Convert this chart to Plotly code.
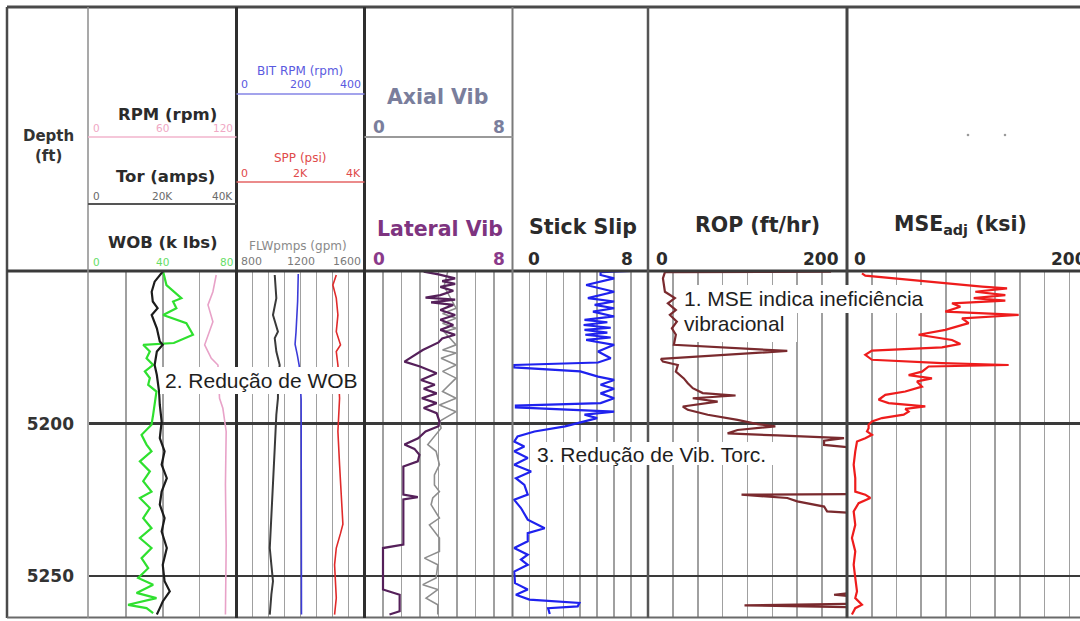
import plotly.graph_objects as go

W, H = 1080, 621

# ---------------- data ----------------
DEPTH_RANGE = [5263.4, 5150.0]
DEPTH_TICKS = [5200, 5250]

WOB_DEPTH = [5150.2, 5154.6, 5158.9, 5160.0, 5162.2, 5164.4, 5167.1, 5170.9, 5173.6, 5174.2,
             5176.4, 5178.6, 5180.8, 5182.9, 5185.1, 5187.3, 5189.5, 5193.9, 5197.1, 5200.4,
             5203.7, 5206.9, 5209.1, 5212.4, 5215.7, 5218.9, 5222.3, 5224.4, 5227.7, 5231.0,
             5234.3, 5237.5, 5240.8, 5244.1, 5247.4, 5250.6, 5252.8, 5255.5, 5257.2, 5259.4,
             5260.5, 5262.1]
WOB = [40.2, 42.0, 50.1, 45.6, 47.4, 40.2, 52.8, 56.4, 46.0, 29.4,
       33.0, 31.2, 34.8, 30.3, 33.0, 32.1, 36.6, 35.7, 34.8, 33.9,
       28.5, 31.2, 33.9, 27.6, 33.0, 29.4, 33.9, 27.6, 33.0, 29.4,
       33.9, 27.6, 33.9, 28.5, 32.1, 26.7, 34.8, 25.8, 36.6, 21.2,
       31.2, 34.8]

TOR_DEPTH = [5150.2, 5153.5, 5156.8, 5160.0, 5162.2, 5164.4, 5168.8, 5173.1, 5174.2, 5176.4,
             5180.8, 5184.1, 5189.5, 5193.9, 5199.3, 5204.8, 5209.1, 5213.5, 5217.9, 5222.3,
             5226.6, 5231.0, 5235.4, 5240.8, 5246.3, 5251.7, 5255.0, 5258.3, 5260.5, 5262.6]
TOR = [20000, 17800, 17000, 17300, 18600, 17000, 18400, 19200, 20000, 18400,
       17800, 18400, 19000, 19200, 19700, 19200, 20500, 19700, 21100, 19700,
       19200, 20500, 19700, 21100, 20000, 20500, 21900, 20000, 19200, 18400]

RPM_DEPTH = [5151.3, 5156.8, 5161.1, 5166.6, 5174.2, 5178.6, 5180.8, 5185.0, 5191.7, 5195.0,
             5202.6, 5220.0, 5240.0, 5262.6]
RPM = [103.5, 100.8, 96.8, 100.8, 94.1, 99.5, 104.9, 105.5, 106.2, 108.9,
       111.6, 111.0, 111.6, 111.0]

FLW_DEPTH = [5151.3, 5158.9, 5164.4, 5169.9, 5172.0, 5176.4, 5180.8, 5185.0, 5191.7, 5197.1,
             5208.0, 5219.0, 5230.0, 5240.8, 5246.3, 5251.7, 5256.0, 5262.6]
FLW = [1039, 1049, 1028, 1059, 1039, 1049, 1070, 1060, 1059, 1049,
       1039, 1028, 1018, 1008, 1018, 1028, 1018, 1008]

BITRPM_DEPTH = [5151.0, 5160.0, 5170.0, 5174.0, 5177.5, 5181.0, 5192.0, 5262.6]
BITRPM = [193, 191, 186, 183, 190, 196, 202, 203]

SPP_DEPTH = [5151.3, 5154.6, 5158.9, 5164.4, 5169.9, 5174.2, 5176.4, 5180.8, 5191.7, 5202.6,
             5213.5, 5224.4, 5233.0, 5236.0, 5240.8, 5246.3, 5257.2, 5262.6]
SPP = [3118, 3012, 3118, 3169, 3118, 3250, 3118, 3169, 3221, 3169,
       3221, 3274, 3325, 3250, 3118, 3065, 3118, 3065]

AXIAL_DEPTH = [5150.2, 5155.0, 5162.2, 5163.9, 5165.5, 5167.1, 5168.8, 5169.9, 5174.2, 5175.9,
               5176.9, 5178.6, 5180.8, 5182.9, 5185.1, 5189.5, 5191.7, 5193.9, 5196.1, 5199.3,
               5201.5, 5204.8, 5206.9, 5209.1, 5213.5, 5216.8, 5220.1, 5222.3, 5224.4, 5226.6,
               5231.0, 5233.2, 5237.5, 5241.9, 5244.1, 5246.3, 5250.6, 5252.8, 5254.4, 5257.2,
               5259.4, 5262.6]
AXIAL = [4.5, 4.3, 4.95, 4.22, 4.95, 4.22, 4.95, 4.3, 4.95, 4.22,
         4.95, 4.14, 4.95, 4.22, 4.95, 4.22, 4.95, 4.05, 4.95, 4.05,
         4.14, 3.69, 3.42, 3.87, 4.05, 3.78, 3.78, 4.05, 3.69, 3.6,
         4.05, 3.51, 4.05, 4.05, 3.24, 3.96, 3.87, 3.15, 3.96, 3.33,
         3.96, 3.96]

LAT_DEPTH = [5150.2, 5151.1, 5152.4, 5153.3, 5154.2, 5155.2, 5156.5, 5157.9, 5158.7, 5159.4,
             5160.3, 5161.1, 5162.8, 5164.4, 5166.0, 5167.7, 5169.3, 5170.9, 5172.1, 5173.4,
             5175.9, 5178.1, 5179.7, 5181.3, 5183.5, 5185.7, 5187.3, 5188.6, 5190.1, 5191.7,
             5193.3, 5194.9, 5196.6, 5199.3, 5200.9, 5202.6, 5204.8, 5206.9, 5208.3, 5210.2,
             5212.4, 5214.1, 5223.3, 5224.1, 5224.9, 5239.7, 5240.8, 5254.4, 5256.1, 5261.5,
             5262.6]
LATERAL = [3.2, 4.0, 4.9, 4.2, 4.9, 4.1, 4.8, 4.1, 3.3, 4.9,
           3.6, 4.8, 4.1, 4.9, 4.1, 4.8, 4.1, 4.9, 4.2, 4.0,
           3.15, 2.6, 2.16, 3.0, 3.9, 3.05, 3.8, 3.2, 3.9, 3.1,
           3.9, 3.2, 3.9, 4.05, 4.0, 3.3, 2.9, 2.16, 2.7, 2.97,
           2.88, 2.1, 2.1, 2.88, 2.1, 2.1, 1.0, 1.0, 1.9, 1.9,
           1.35]

STICK_DEPTH = [5150.0, 5150.4, 5151.3, 5152.4, 5154.6, 5156.8, 5158.9, 5160.0, 5161.1, 5162.2,
               5163.3, 5164.9, 5166.0, 5166.8, 5167.7, 5168.6, 5169.3, 5170.2, 5170.9, 5171.8,
               5172.6, 5174.2, 5176.4, 5178.6, 5180.0, 5180.8, 5181.6, 5182.9, 5184.6, 5185.7,
               5187.3, 5188.6, 5190.1, 5191.7, 5193.3, 5194.1, 5194.7, 5196.1, 5197.1, 5198.2,
               5199.3, 5200.9, 5202.6, 5204.2, 5205.9, 5207.5, 5209.1, 5211.3, 5213.5, 5215.7,
               5217.9, 5220.1, 5223.3, 5225.0, 5227.7, 5231.5, 5234.3, 5235.9, 5238.6, 5240.8,
               5243.0, 5244.6, 5246.3, 5248.5, 5252.3, 5254.4, 5256.1, 5257.7, 5258.8, 5259.9,
               5260.5, 5262.4]
STICK = [7.0, 5.2, 5.2, 6.0, 4.35, 6.0, 4.45, 6.0, 4.85, 6.0,
         4.75, 6.0, 4.25, 5.6, 4.2, 5.8, 4.25, 5.6, 4.3, 5.8,
         4.35, 6.0, 5.05, 5.8, 5.05, 0.1, 0.1, 4.0, 5.05, 6.0,
         5.2, 6.0, 5.2, 6.0, 5.2, 0.2, 0.2, 6.0, 4.25, 5.0,
         4.25, 3.1, 1.3, 0.3, 0.1, 0.7, 0.1, 0.9, 0.1, 1.1,
         0.2, 0.7, 0.9, 0.1, 0.5, 0.9, 1.9, 0.9, 0.9, 0.1,
         0.9, 0.5, 0.9, 0.1, 0.15, 0.9, 0.2, 1.0, 3.95, 3.85,
         2.1, 2.2]

ROP_DEPTH = [5150.2, 5150.4, 5152.4, 5154.6, 5156.8, 5158.9, 5160.6, 5162.8, 5164.4, 5166.6,
             5168.8, 5170.9, 5174.2, 5176.2, 5178.8, 5179.7, 5180.8, 5183.0, 5185.2, 5186.8,
             5188.4, 5190.0, 5190.8, 5191.7, 5192.8, 5194.4, 5195.5, 5197.1, 5198.8, 5200.2,
             5200.9, 5202.1, 5203.2, 5203.9, 5204.8, 5205.6, 5207.0, 5207.9, 5223.1, 5223.3,
             5224.4, 5225.5, 5227.2, 5228.8, 5229.3, 5255.5, 5256.1, 5256.6, 5259.1, 5259.6,
             5260.2, 5262.6]
ROP = [184, 17, 15, 16, 17, 27, 20, 28, 22, 29,
       24, 28, 26, 140, 13, 15, 30, 28, 36, 40,
       45, 55, 88, 45, 70, 35, 40, 60, 90, 110,
       128, 90, 80, 130, 197, 177, 177, 205, 205, 94,
       140, 150, 177, 180, 205, 205, 187, 205, 205, 97,
       205, 205]

MSE_DEPTH = [5150.8, 5151.5, 5155.1, 5155.7, 5156.8, 5157.9, 5158.9, 5159.7, 5160.6, 5161.7,
             5163.3, 5164.4, 5165.5, 5167.1, 5169.3, 5170.9, 5172.6, 5173.9, 5175.0, 5176.1,
             5177.5, 5179.1, 5180.2, 5180.8, 5181.3, 5183.0, 5184.1, 5185.2, 5186.2, 5187.9,
             5189.5, 5190.6, 5192.2, 5193.3, 5194.4, 5195.2, 5196.1, 5197.1, 5198.2, 5199.3,
             5200.4, 5201.5, 5202.6, 5203.7, 5204.8, 5205.9, 5209.1, 5213.5, 5217.9, 5222.3,
             5223.3, 5224.4, 5226.1, 5228.8, 5233.2, 5237.5, 5241.9, 5246.3, 5250.6, 5255.0,
             5257.2, 5259.4, 5260.5, 5262.6]
MSE = [12.1, 14.8, 109.3, 129.6, 103.9, 128.2, 102.6, 128.2, 85.0, 91.8,
       79.6, 139.0, 93.1, 98.5, 79.6, 58.0, 85.0, 91.8, 76.9, 20.2,
       14.8, 20.2, 76.9, 130.9, 66.1, 60.7, 49.9, 68.8, 56.7, 60.7,
       47.2, 31.0, 25.6, 33.7, 63.4, 47.2, 49.9, 45.9, 28.3, 20.2,
       17.5, 17.5, 16.2, 20.2, 14.8, 8.1, 6.7, 5.4, 6.7, 6.7,
       14.8, 18.9, 9.4, 5.4, 6.7, 4.0, 6.7, 5.4, 6.7, 8.1,
       6.7, 12.1, 6.7, 4.0]

# header scales
RPM_SCALE = [0, 60, 120]
TOR_SCALE = [0, 20000, 40000]
TOR_SCALE_TEXT = ["0", "20K", "40K"]
WOB_SCALE = [0, 40, 80]
BITRPM_SCALE = [0, 200, 400]
SPP_SCALE = [0, 2000, 4000]
SPP_SCALE_TEXT = ["0", "2K", "4K"]
FLW_SCALE = [800, 1200, 1600]
VIB_SCALE = [0, 8]
ROP_SCALE = [0, 200]
MSE_SCALE = [0, 200]

# ---------------- layout helpers ----------------
def px(x):
    return x / W


def py(y):
    return 1 - y / H


T1 = (89, 236.5)
T2 = (236.5, 364.5)
T3 = (364.5, 512.5)
T4 = (512.5, 648)
T5 = (648, 847)
T6 = (847, 1094)          # full-scale width of MSE track (cut by the page edge)
TOP, BOT = 271, 617
YDOM = [py(BOT), py(TOP)]
GRID = "#a0a0a0"

fig = go.Figure()


def add_curve(x, y, xa, color, width=2.0):
    fig.add_trace(go.Scatter(x=x, y=y, xaxis=xa, yaxis="y", mode="lines",
                             line=dict(color=color, width=width),
                             hoverinfo="skip", showlegend=False))


add_curve(RPM, RPM_DEPTH, "x3", "#e8a2c8", 1.6)
add_curve(WOB, WOB_DEPTH, "x", "#2fe02f", 2.2)
add_curve(TOR, TOR_DEPTH, "x2", "#1c1c1c", 2.2)
add_curve(FLW, FLW_DEPTH, "x4", "#3a3a3a", 2.0)
add_curve(BITRPM, BITRPM_DEPTH, "x5", "#3c3cd8", 1.6)
add_curve(SPP, SPP_DEPTH, "x6", "#e02a2a", 1.6)
add_curve(AXIAL, AXIAL_DEPTH, "x7", "#8e8e8e", 1.6)
add_curve(LATERAL, LAT_DEPTH, "x7", "#55205a", 2.2)
add_curve(STICK, STICK_DEPTH, "x8", "#1f22ee", 2.2)
add_curve(ROP, ROP_DEPTH, "x9", "#7a2a2e", 2.2)
add_curve(MSE, MSE_DEPTH, "x10", "#ee1c1c", 2.2)


def track_axis(dom, rng, dtick):
    return dict(domain=[px(dom[0]), px(dom[1])], range=rng, dtick=dtick, tick0=rng[0],
                showgrid=True, gridcolor=GRID, gridwidth=1.6, showticklabels=False,
                zeroline=False, showline=False, ticks="", anchor="y", fixedrange=True)


def overlay_axis(base, rng):
    return dict(overlaying=base, range=rng, visible=False, anchor="y", fixedrange=True)


mse_visible = MSE_SCALE[-1] * (W - T6[0]) / (T6[1] - T6[0])

layout = dict(
    width=W, height=H, margin=dict(l=0, r=0, t=0, b=0),
    paper_bgcolor="white", plot_bgcolor="rgba(0,0,0,0)",
    hovermode=False, showlegend=False,
    xaxis=track_axis(T1, [WOB_SCALE[0], WOB_SCALE[-1]], 20),
    xaxis2=overlay_axis("x", [TOR_SCALE[0], TOR_SCALE[-1]]),
    xaxis3=overlay_axis("x", [RPM_SCALE[0], RPM_SCALE[-1]]),
    xaxis4=track_axis(T2, [FLW_SCALE[0], FLW_SCALE[-1]], 100),
    xaxis5=overlay_axis("x4", [BITRPM_SCALE[0], BITRPM_SCALE[-1]]),
    xaxis6=overlay_axis("x4", [SPP_SCALE[0], SPP_SCALE[-1]]),
    xaxis7=track_axis(T3, [VIB_SCALE[0], VIB_SCALE[-1]], 1),
    xaxis8=track_axis(T4, [VIB_SCALE[0], VIB_SCALE[-1]], 1),
    xaxis9=track_axis(T5, [ROP_SCALE[0], ROP_SCALE[-1]], 25),
    xaxis10=dict(track_axis((T6[0], W), [0, mse_visible], 20)),
    yaxis=dict(domain=YDOM, range=DEPTH_RANGE, tickvals=DEPTH_TICKS,
               ticktext=[str(d) for d in DEPTH_TICKS],
               showgrid=True, gridcolor="#3a3a3a", gridwidth=2.5, zeroline=False,
               showline=False, ticks="", ticklabelstandoff=14, anchor="x",
               tickfont=dict(family="DejaVu Sans", size=17, color="#333333", weight="bold"),
               fixedrange=True),
)

shapes = []


def hline(y, x0, x1, color, width):
    shapes.append(dict(type="line", xref="paper", yref="paper", x0=px(x0), x1=px(x1),
                       y0=py(y), y1=py(y), line=dict(color=color, width=width), layer="above"))


def vline(x, y0, y1, color, width):
    shapes.append(dict(type="line", xref="paper", yref="paper", x0=px(x), x1=px(x),
                       y0=py(y0), y1=py(y1), line=dict(color=color, width=width), layer="above"))


# frame and track separators
hline(7, 7, W, "#4a4a4a", 3)
vline(7, 7, 618, "#4a4a4a", 2.5)
hline(617.5, 7, W, "#6a6a6a", 2)
hline(TOP, 7, W, "#3a3a3a", 3)
vline(88, 7, 618, "#8c8c8c", 1.5)
vline(T1[1], 7, 618, "#2e2e2e", 3)
vline(T2[1], 7, 618, "#2e2e2e", 3)
vline(T3[1], 7, 618, "#7a7a7a", 2)
vline(T4[1], 7, 618, "#555555", 2.5)
vline(T5[1], 7, 618, "#444444", 3)
# header sub-scale lines
hline(137, 88, T1[1], "#f2b4cc", 1.5)
hline(204, 88, T1[1], "#555555", 2)
hline(94, T1[1], T2[1], "#8484e6", 1.5)
hline(182, T1[1], T2[1], "#e46464", 1.5)
hline(137, T2[1], T3[1], "#9a9a9a", 2)
# two small specks in the MSE header
for cx in (968, 1005):
    shapes.append(dict(type="circle", xref="paper", yref="paper", x0=px(cx - 1.3), x1=px(cx + 1.3),
                       y0=py(136.3), y1=py(133.7), fillcolor="#9a9a9a", line=dict(width=0)))


# white note boxes
def box(x0, y0, x1, y1):
    shapes.append(dict(type="rect", xref="paper", yref="paper", x0=px(x0), x1=px(x1),
                       y0=py(y1), y1=py(y0), fillcolor="white", line=dict(width=0), layer="above"))


box(681, 285, 944, 313)
box(681, 313, 797, 342)
box(160, 367, 362, 394)
box(533, 442, 773, 465)

annotations = []


def text(t, x, y, size, color, anchor="center", family="DejaVu Sans"):
    annotations.append(dict(text=t, x=px(x), y=py(y), xref="paper", yref="paper",
                            xanchor=anchor, yanchor="middle", showarrow=False, borderpad=0,
                            font=dict(family=family, size=size, color=color)))


def scale(values, labels, dom, vmin, vmax, y, size, color, bold=False, inset=3):
    for i, (v, lab) in enumerate(zip(values, labels)):
        xp = dom[0] + (v - vmin) / (vmax - vmin) * (dom[1] - dom[0])
        if i == 0:
            anchor, xp = "left", xp + inset
        elif i == len(values) - 1:
            anchor, xp = "right", xp - inset
        else:
            anchor = "center"
        t = f"<b>{lab}</b>" if bold else str(lab)
        text(t, xp, y, size, color, anchor)


# depth column title
text("<b>Depth<br>(ft)</b>", 48, 146, 15, "#333333")

# track 1 header
text("<b>RPM (rpm)</b>", 167, 114, 16.5, "#2b2b2b")
scale(RPM_SCALE, RPM_SCALE, T1, RPM_SCALE[0], RPM_SCALE[-1], 128, 10.5, "#f0a8c4")
text("<b>Tor (amps)</b>", 165, 177, 16.5, "#2b2b2b")
scale(TOR_SCALE, TOR_SCALE_TEXT, T1, TOR_SCALE[0], TOR_SCALE[-1], 196, 10.5, "#6a6a6a")
text("<b>WOB (k lbs)</b>", 163, 243, 16.5, "#2b2b2b")
scale(WOB_SCALE, WOB_SCALE, T1, WOB_SCALE[0], WOB_SCALE[-1], 262, 10.5, "#66dd66")

# track 2 header
text("BIT RPM (rpm)", 300, 71, 12, "#5a5ae0")
scale(BITRPM_SCALE, BITRPM_SCALE, T2, BITRPM_SCALE[0], BITRPM_SCALE[-1], 85, 11, "#5a5ae0")
text("SPP (psi)", 300, 158, 12, "#e04a4a")
scale(SPP_SCALE, SPP_SCALE_TEXT, T2, SPP_SCALE[0], SPP_SCALE[-1], 173, 11, "#e04a4a")
text("FLWpmps (gpm)", 298, 246, 12, "#8a8a8a")
scale(FLW_SCALE, FLW_SCALE, T2, FLW_SCALE[0], FLW_SCALE[-1], 261, 11, "#7a7a7a")

# track 3 header
text("<b>Axial Vib</b>", 437, 97, 20.5, "#7a7e9c")
scale(VIB_SCALE, VIB_SCALE, T3, VIB_SCALE[0], VIB_SCALE[-1], 127, 17, "#7a7e9c", True, 7)
text("<b>Lateral Vib</b>", 440, 229, 20.5, "#7e3480")
scale(VIB_SCALE, VIB_SCALE, T3, VIB_SCALE[0], VIB_SCALE[-1], 259, 17, "#8a3a8a", True, 7)

# track 4-6 headers
text("<b>Stick Slip</b>", 583, 227, 20.5, "#2b2b2b")
scale(VIB_SCALE, VIB_SCALE, T4, VIB_SCALE[0], VIB_SCALE[-1], 259, 17, "#2b2b2b", True, 14)
text("<b>ROP (ft/hr)</b>", 757, 225, 20.5, "#2b2b2b")
scale(ROP_SCALE, ROP_SCALE, T5, ROP_SCALE[0], ROP_SCALE[-1], 259, 17, "#2b2b2b", True, 7)
text("<b>MSE<sub>adj</sub> (ksi)</b>", 960, 225, 20.5, "#2b2b2b")
scale(MSE_SCALE, MSE_SCALE, T6, MSE_SCALE[0], MSE_SCALE[-1], 259, 17, "#2b2b2b", True, 6)

# notes
NOTE_FONT = "Liberation Sans, Arial, sans-serif"
text("1. MSE indica ineficiência", 683, 298, 21, "#1e1e1e", "left", NOTE_FONT)
text("vibracional", 683, 323, 21, "#1e1e1e", "left", NOTE_FONT)
text("2. Redução de WOB", 164, 381, 21, "#1e1e1e", "left", NOTE_FONT)
text("3. Redução de Vib. Torc.", 536, 454, 21, "#1e1e1e", "left", NOTE_FONT)

layout["shapes"] = shapes
layout["annotations"] = annotations
fig.update_layout(**layout)

fig.write_html("out.html",
               config={"displayModeBar": False, "staticPlot": True},
               post_script="document.body.style.margin='0';document.body.style.overflow='hidden';")
